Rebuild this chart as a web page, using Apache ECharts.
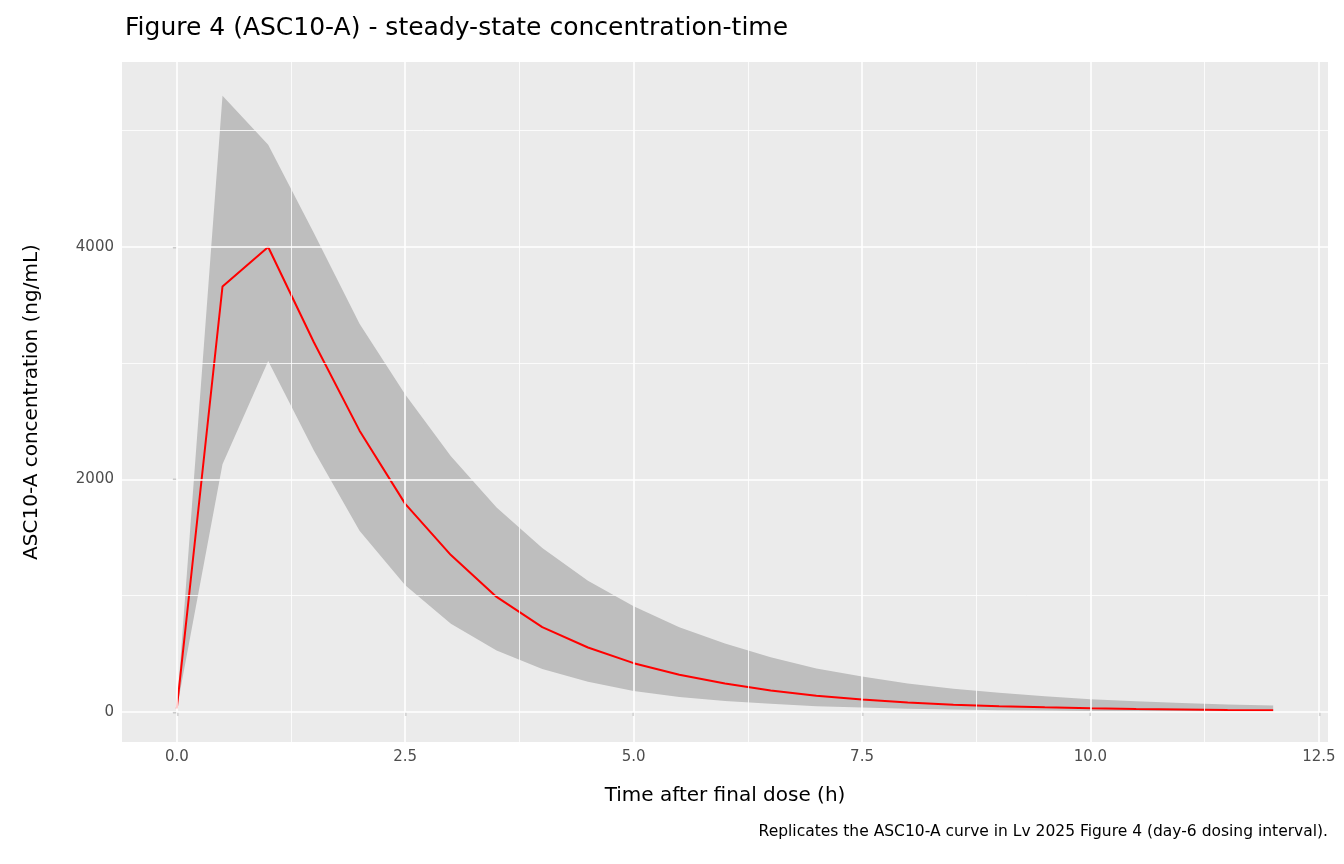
<!DOCTYPE html>
<html>
<head>
<meta charset="UTF-8">
<script src="https://cdn.jsdelivr.net/npm/echarts@6/dist/echarts.min.js"></script>
<style>html,body{margin:0;background:#fff}#main{width:1344px;height:864px}</style>
</head>
<body>
<div id="main"></div>
<script>
var times = [0,0.5,1,1.5,2,2.5,3,3.5,4,4.5,5,5.5,6,6.5,7,7.5,8,8.5,9,9.5,10,10.5,11,11.5,12];
var median = [30,3660,4000,3180,2420,1790,1350,990,730,555,420,320,245,185,140,108,82,63,50,40,32,26,22,18,15];
var upper = [30,5300,4880,4120,3340,2730,2200,1760,1410,1130,910,730,590,470,375,305,245,200,165,135,110,92,78,65,55];
var lower = [30,2130,3020,2250,1560,1090,760,530,370,260,180,130,95,70,50,38,28,21,16,12,9,7,6,5,4];
var xTicks = [0,2.5,5,7.5,10,12.5];
var xMinor = [1.25,3.75,6.25,8.75,11.25];
var yTicks = [0,2000,4000];
var yMinor = [1000,3000,5000];

var myChart = echarts.init(document.getElementById('main'));
var font = 'DejaVu Sans';
var lineData = times.map(function (t, i) { return [t, median[i]]; });
var gridLines = [];
xTicks.forEach(function (v) { gridLines.push({xAxis: v, lineStyle: {width: 1.6}}); });
xMinor.forEach(function (v) { gridLines.push({xAxis: v, lineStyle: {width: 0.8}}); });
yTicks.forEach(function (v) { gridLines.push({yAxis: v, lineStyle: {width: 1.6}}); });
yMinor.forEach(function (v) { gridLines.push({yAxis: v, lineStyle: {width: 0.8}}); });

option = {
    backgroundColor: '#fff',
    animation: false,
    title: {
        text: 'Figure 4 (ASC10-A) - steady-state concentration-time',
        left: 120, top: 11,
        textStyle: {fontFamily: font, fontSize: 25, fontWeight: 'normal', color: '#000'}
    },
    graphic: [{
        type: 'text', right: 16, top: 824,
        style: {text: 'Replicates the ASC10-A curve in Lv 2025 Figure 4 (day-6 dosing interval).',
            font: '15.5px "DejaVu Sans"', fill: '#000'}
    }],
    grid: {left: 122, right: 16, top: 62, bottom: 122, show: true, backgroundColor: '#EBEBEB', borderWidth: 0},
    xAxis: {
        type: 'value', min: -0.6, max: 12.6,
        name: 'Time after final dose (h)', nameLocation: 'middle', nameGap: 44,
        nameTextStyle: {fontFamily: font, fontSize: 20, color: '#000'},
        axisLine: {show: false},
        axisTick: {show: true, length: 4, customValues: xTicks, lineStyle: {color: '#333', width: 1.2}},
        axisLabel: {customValues: xTicks, fontFamily: font, fontSize: 15, color: '#4D4D4D', margin: 8,
            formatter: function (v) { return v.toFixed(1); }},
        splitLine: {show: false}
    },
    yAxis: {
        type: 'value', min: -258, max: 5591,
        name: 'ASC10-A concentration (ng/mL)', nameLocation: 'middle', nameGap: 80,
        nameTextStyle: {fontFamily: font, fontSize: 20, color: '#000'},
        axisLine: {show: false},
        axisTick: {show: true, length: 4, customValues: yTicks, lineStyle: {color: '#333', width: 1.2}},
        axisLabel: {customValues: yTicks, fontFamily: font, fontSize: 15, color: '#4D4D4D', margin: 8,
            formatter: function (v) { return String(v); }},
        splitLine: {show: false}
    },
    series: [{
        type: 'line', data: [], silent: true,
        markLine: {silent: true, symbol: 'none', label: {show: false},
            lineStyle: {color: '#fff', type: 'solid'}, data: gridLines}
    }, {
        type: 'custom', silent: true, z: 3,
        data: [0],
        renderItem: function (params, api) {
            var pts = [];
            for (var i = 0; i < times.length; i++) pts.push(api.coord([times[i], upper[i]]));
            for (var j = times.length - 1; j >= 0; j--) pts.push(api.coord([times[j], lower[j]]));
            return {type: 'polygon', shape: {points: pts}, style: {fill: '#BEBEBE'}};
        }
    }, {
        type: 'line', data: lineData, z: 4, symbol: 'none', silent: true,
        lineStyle: {color: '#FF0000', width: 2}
    }]
};
myChart.setOption(option);
</script>
</body>
</html>
